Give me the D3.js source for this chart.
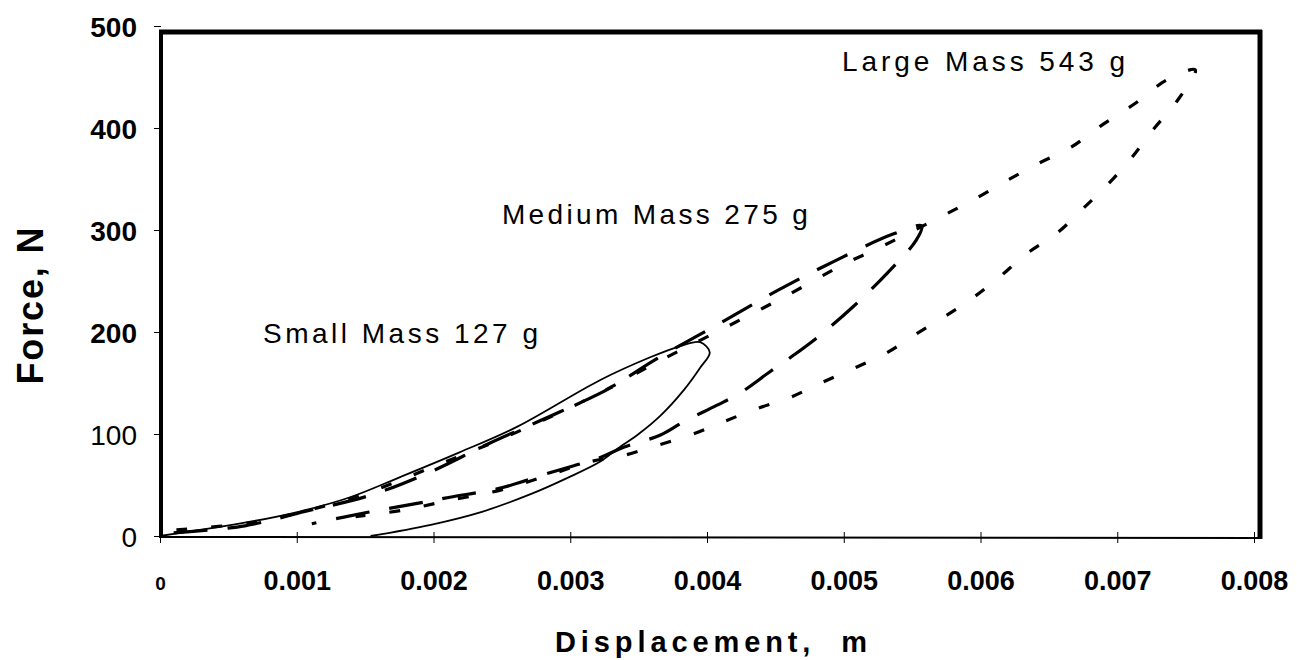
<!DOCTYPE html>
<html>
<head>
<meta charset="utf-8">
<script src="https://cdn.jsdelivr.net/npm/d3@7"></script>
<style>
  html, body { margin: 0; padding: 0; background: #fff; }
  svg { display: block; }
  text { font-family: "Liberation Sans", Arial, Helvetica, sans-serif; fill: #000; }
</style>
</head>
<body>
<svg id="chart" width="1297" height="660"></svg>
<script>
// ---------- DATA ----------
const xTickValues = [0, 0.001, 0.002, 0.003, 0.004, 0.005, 0.006, 0.007, 0.008];
const xTickLabels = ["0", "0.001", "0.002", "0.003", "0.004", "0.005", "0.006", "0.007", "0.008"];
const yTickValues = [0, 100, 200, 300, 400, 500];
const yTickLabels = ["0", "100", "200", "300", "400", "500"];

// Small Mass 127 g (solid): loading then unloading
const smallDisp  = [0, 0.00066, 0.00102, 0.00139, 0.00176, 0.00219, 0.00261, 0.00322, 0.00358, 0.00380, 0.00395, 0.00402,
                    0.00395, 0.00383, 0.00366, 0.00350, 0.00335, 0.00322, 0.00298, 0.00271, 0.00236, 0.00198, 0.00154];
const smallForce = [0, 14, 24, 38, 58, 82, 107, 153, 175, 186, 190, 180,
                    165, 143, 118, 100, 86, 73, 57, 41, 24, 11, 0];

// Medium Mass 275 g (long dash)
const mediumDisp  = [0.0001, 0.00062, 0.00106, 0.00154, 0.00198, 0.00241, 0.00293, 0.00329, 0.00361, 0.00406, 0.00452, 0.00494, 0.00536, 0.00557,
                     0.00553, 0.00532, 0.00507, 0.00481, 0.00461, 0.00446, 0.00424, 0.00407, 0.00383, 0.00366, 0.00339, 0.00322, 0.00285, 0.00249, 0.00212, 0.00188, 0.00151, 0.00111];
const mediumForce = [3, 10, 24, 40, 63, 91, 122, 145, 172, 206, 241, 270, 296, 304,
                     290, 258, 225, 195, 175, 161, 140, 128, 112, 99, 87, 77, 62, 47, 38, 32, 23, 12];

// Large Mass 543 g (short dash)
const largeDisp  = [0.00012, 0.00066, 0.00102, 0.00151, 0.00200, 0.00251, 0.00317, 0.00360, 0.00407, 0.00456, 0.00501, 0.00525, 0.00574, 0.00598, 0.00620, 0.00642, 0.00666, 0.00689, 0.00713, 0.00736, 0.00757,
                    0.00744, 0.00726, 0.00710, 0.00694, 0.00675, 0.00656, 0.00634, 0.00614, 0.00595, 0.00576, 0.00554, 0.00532, 0.00510, 0.00485, 0.00461, 0.00437, 0.00412, 0.00390, 0.00364, 0.00339, 0.00315, 0.00285, 0.00249, 0.00212, 0.00176, 0.00143];
const largeForce = [6, 13, 23, 42, 68, 96, 137, 168, 200, 234, 267, 282, 315, 332, 349, 365, 381, 403, 424, 447, 457,
                    427, 398, 370, 346, 321, 297, 277, 254, 234, 217, 199, 180, 166, 151, 136, 125, 112, 100, 89, 79, 73, 60, 45, 35, 25, 19];

const seriesNames = ["Small Mass 127 g", "Medium Mass 275 g", "Large Mass 543 g"];

// ---------- LAYOUT ----------
const svg = d3.select("#chart");
const plotLeft = 160, plotRight = 1254, frameRight = 1260, frameTop = 32;
const x = d3.scaleLinear().domain([0, 0.008]).range([plotLeft, plotRight]);
const y = d3.scaleLinear().domain([0, 500]).range([536, 26]);

// ---------- AXES ----------
const xAxis = d3.axisBottom(x).tickValues(xTickValues)
  .tickFormat((d, i) => xTickLabels[i]).tickSizeInner(6).tickSizeOuter(0);
const gx = svg.append("g").attr("transform", `translate(0,${y(0)})`).call(xAxis);
gx.select(".domain").remove();
gx.selectAll(".tick line").attr("y1", -4).attr("y2", 7).attr("stroke", "#000").attr("stroke-width", 1);
gx.selectAll(".tick text")
  .attr("y", 54).attr("dy", 0)
  .style("font-size", (d, i) => i === 0 ? "19px" : "27px")
  .style("font-weight", "bold");

const yAxis = d3.axisLeft(y).tickValues(yTickValues)
  .tickFormat((d, i) => yTickLabels[i]).tickSizeInner(7).tickSizeOuter(0).tickPadding(17);
const gy = svg.append("g").attr("transform", `translate(${plotLeft + 1},0)`).call(yAxis);
gy.select(".domain").remove();
gy.selectAll(".tick line").attr("stroke", "#000").attr("stroke-width", 1);
gy.selectAll(".tick text")
  .attr("dy", "0.36em")
  .style("font-size", "28px")
  .style("font-weight", d => d >= 200 ? "bold" : "normal");

// ---------- FRAME ----------
const frame = svg.append("g").attr("stroke", "#000").attr("fill", "none");
frame.append("line").attr("x1", plotLeft - 1).attr("x2", frameRight + 2).attr("y1", frameTop).attr("y2", frameTop).attr("stroke-width", 5);
frame.append("line").attr("x1", plotLeft + 1).attr("x2", plotLeft + 1).attr("y1", frameTop - 2).attr("y2", y(0) + 2).attr("stroke-width", 4);
frame.append("line").attr("x1", frameRight).attr("x2", frameRight).attr("y1", frameTop - 2).attr("y2", y(0) + 3).attr("stroke-width", 5);
frame.append("line").attr("x1", plotLeft).attr("x2", frameRight).attr("y1", y(0) + 1).attr("y2", y(0) + 2).attr("stroke-width", 2);

// ---------- CURVES ----------
const line = d3.line()
  .x(d => x(d[0])).y(d => y(d[1]))
  .curve(d3.curveCatmullRom.alpha(0.5));

const curves = [
  { name: seriesNames[0], disp: smallDisp, force: smallForce, width: 1.8, dash: null },
  { name: seriesNames[1], disp: mediumDisp, force: mediumForce, width: 3.2, dash: "34,20" },
  { name: seriesNames[2], disp: largeDisp, force: largeForce, width: 3.2, dash: "11,24" }
];

svg.append("g").selectAll("path").data(curves).join("path")
  .attr("d", c => line(c.disp.map((d, i) => [d, c.force[i]])))
  .attr("fill", "none")
  .attr("stroke", "#000")
  .attr("stroke-width", c => c.width)
  .attr("stroke-dasharray", c => c.dash)
  .attr("stroke-linejoin", "round");

// ---------- ANNOTATIONS ----------
const annos = [
  { text: seriesNames[0], dx: 0.000753, f: 189, len: 275 },
  { text: seriesNames[1], dx: 0.00250, f: 306, len: 306 },
  { text: seriesNames[2], dx: 0.004988, f: 456, len: 283 }
];
svg.append("g").selectAll("text").data(annos).join("text")
  .attr("x", a => x(a.dx)).attr("y", a => y(a.f))
  .attr("textLength", a => a.len).attr("lengthAdjust", "spacing")
  .style("font-size", "28px")
  .text(a => a.text);

// ---------- AXIS TITLES ----------
svg.append("text")
  .attr("transform", "translate(43,306) rotate(-90)")
  .attr("text-anchor", "middle")
  .attr("textLength", 157).attr("lengthAdjust", "spacing")
  .style("font-size", "36px").style("font-weight", "bold")
  .text("Force, N");

svg.append("text")
  .attr("x", 711).attr("y", 652)
  .attr("text-anchor", "middle")
  .attr("textLength", 312).attr("lengthAdjust", "spacing")
  .style("font-size", "29px").style("font-weight", "bold")
  .style("white-space", "pre")
  .text("Displacement,  m");
</script>
</body>
</html>
